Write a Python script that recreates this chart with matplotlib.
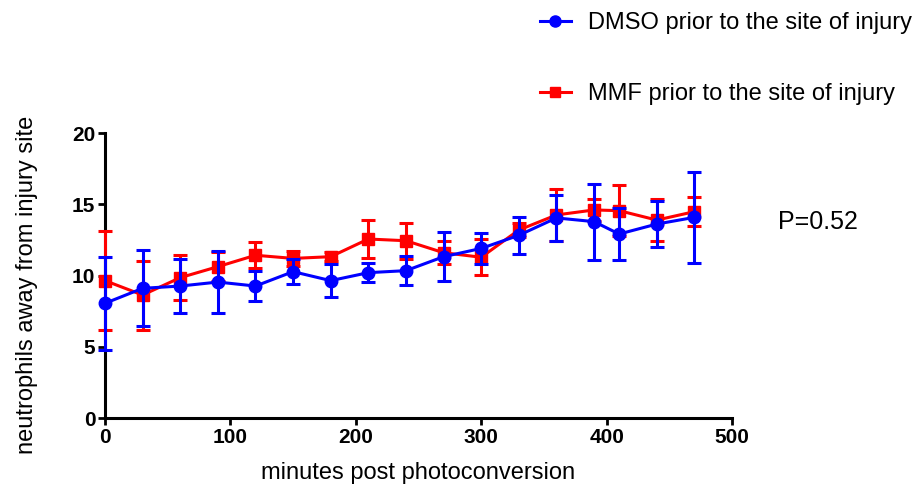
import matplotlib
matplotlib.use("Agg")
import matplotlib.pyplot as plt
from matplotlib.lines import Line2D

plt.rcParams['font.family'] = ['Liberation Sans', 'DejaVu Sans']

minutes = [0, 30, 60, 90, 120, 150, 180, 210, 240, 270, 300, 330, 360, 390, 410, 440, 470]

dmso_mean = [8.05, 9.1, 9.26, 9.54, 9.26, 10.27, 9.64, 10.2, 10.34, 11.32, 11.9,
             12.82, 14.04, 13.78, 12.91, 13.61, 14.08]
dmso_err = [3.25, 2.67, 1.87, 2.17, 1.07, 0.88, 1.17, 0.67, 1.0, 1.7, 1.1,
            1.28, 1.6, 2.67, 1.85, 1.63, 3.17]

mmf_mean = [9.64, 8.63, 9.85, 10.62, 11.42, 11.2, 11.32, 12.56, 12.44, 11.6, 11.28,
            13.19, 14.25, 14.6, 14.55, 13.89, 14.48]
mmf_err = [3.45, 2.42, 1.6, 1.0, 0.9, 0.5, 0.3, 1.35, 1.25, 0.8, 1.25,
           0.5, 1.85, 0.8, 1.8, 1.5, 1.0]

x_ticks = [0, 100, 200, 300, 400, 500]
y_ticks = [0, 5, 10, 15, 20]

labels = ['DMSO prior to the site of injury', 'MMF prior to the site of injury']

fig = plt.figure(figsize=(9.16, 4.9), dpi=100)
ax = fig.add_axes([105 / 916, 1 - 418 / 490, (732 - 105) / 916, (418 - 133) / 490])

ax.errorbar(minutes, mmf_mean, yerr=mmf_err, color='#ff0000', ecolor='#ff0000',
            marker='s', markersize=8, linewidth=2.2, elinewidth=2.2,
            capsize=5, capthick=2.2, clip_on=False, zorder=3)
ax.errorbar(minutes, dmso_mean, yerr=dmso_err, color='#0000ff', ecolor='#0000ff',
            marker='o', markersize=9, linewidth=2.2, elinewidth=2.2,
            capsize=5, capthick=2.2, clip_on=False, zorder=4)

ax.set_xlim(0, 500)
ax.set_ylim(0, 20)
ax.set_xticks(x_ticks)
ax.set_yticks(y_ticks)
for side in ('top', 'right'):
    ax.spines[side].set_visible(False)
for side in ('left', 'bottom'):
    ax.spines[side].set_linewidth(2.2)
ax.tick_params(direction='out', length=5, width=2, labelsize=15, pad=2)
for lbl in ax.get_xticklabels() + ax.get_yticklabels():
    lbl.set_fontweight('bold')

ax.set_xlabel('minutes post photoconversion', fontsize=17, labelpad=11)
ax.set_ylabel('neutrophils away from injury site', fontsize=17)
ax.yaxis.set_label_coords(-0.107, 0.467)

handles = [
    Line2D([], [], color='#0000ff', marker='o', markersize=8, linewidth=2.2),
    Line2D([], [], color='#ff0000', marker='s', markersize=7, linewidth=2.2),
]
fig.legend(handles, labels, loc='upper left',
           bbox_to_anchor=(540 / 916, 1 - 12 / 490),
           frameon=False, fontsize=17, labelspacing=2.08, handlelength=1.3,
           handletextpad=0.72, borderpad=0, borderaxespad=0)

fig.text(778 / 916, 1 - 222 / 490, 'P=0.52', fontsize=18, va='center', ha='left')

fig.savefig('out.png', dpi=100)
